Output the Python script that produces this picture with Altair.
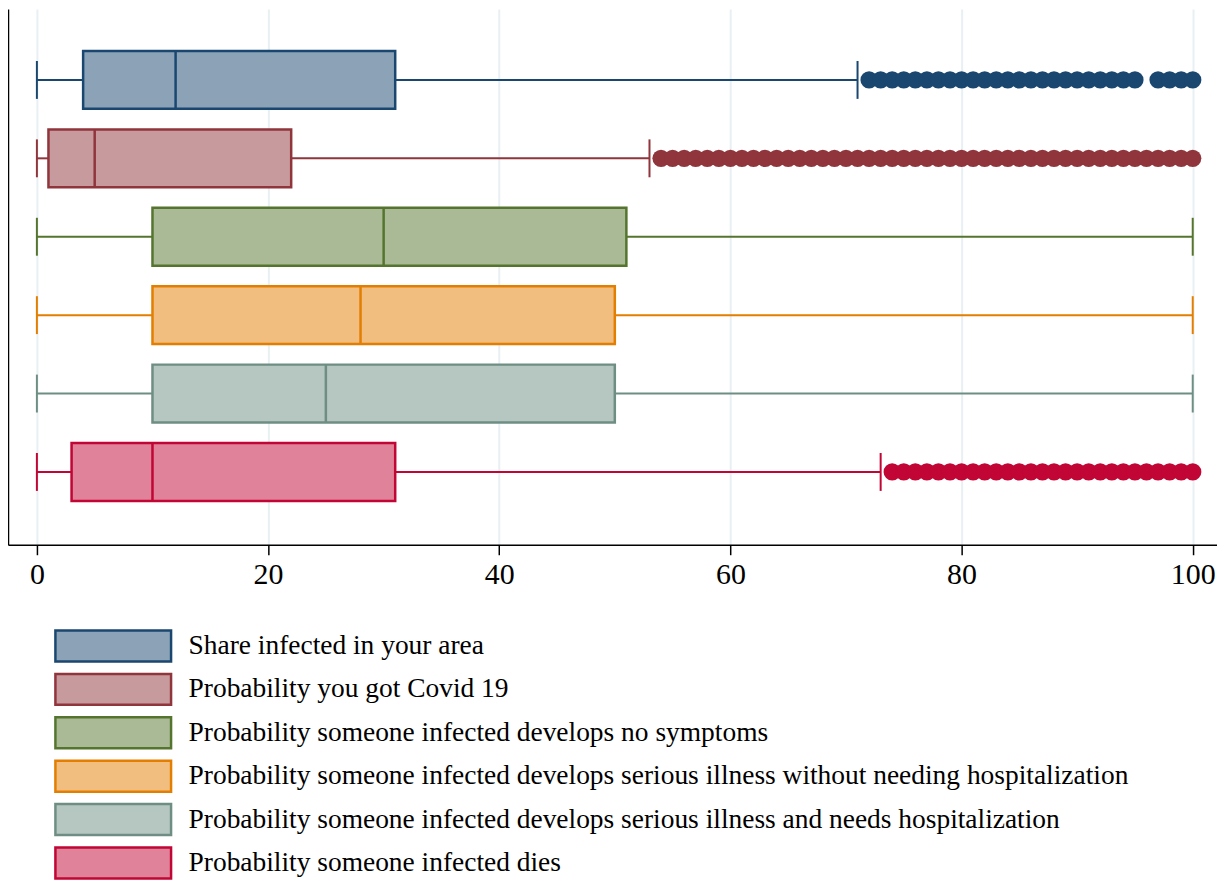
import altair as alt
import pandas as pd

categories = [
    "Share infected in your area",
    "Probability you got Covid 19",
    "Probability someone infected develops no symptoms",
    "Probability someone infected develops serious illness without needing hospitalization",
    "Probability someone infected develops serious illness and needs hospitalization",
    "Probability someone infected dies",
]
lows = [0, 0, 0, 0, 0, 0]
q1s = [4, 1, 10, 10, 10, 3]
medians = [12, 5, 30, 28, 25, 10]
q3s = [31, 22, 51, 50, 50, 31]
highs = [71, 53, 100, 100, 100, 73]

outliers_0 = [72, 73, 74, 75, 76, 77, 78, 79, 80, 81, 82, 83, 84, 85, 86, 87, 88, 89,
              90, 91, 92, 93, 94, 95, 97, 98, 99, 100]
outliers_1 = [54, 55, 56, 57, 58, 59, 60, 61, 62, 63, 64, 65, 66, 67, 68, 69, 70, 71,
              72, 73, 74, 75, 76, 77, 78, 79, 80, 81, 82, 83, 84, 85, 86, 87, 88, 89,
              90, 91, 92, 93, 94, 95, 96, 97, 98, 99, 100]
outliers_5 = [74, 75, 76, 77, 78, 79, 80, 81, 82, 83, 84, 85, 86, 87, 88, 89, 90, 91,
              92, 93, 94, 95, 96, 97, 98, 99, 100]

dark = ["#1a476f", "#90353b", "#55752f", "#e37e00", "#6e8e84", "#c10534"]
light = ["#8ca3b7", "#c79a9d", "#aaba97", "#f1be7f", "#b6c6c1", "#e08299"]

FONT = "Liberation Serif"

box_df = pd.DataFrame({
    "cat": categories, "low": lows, "q1": q1s, "med": medians, "q3": q3s, "high": highs,
})
out_rows = []
for c, vals in [(categories[0], outliers_0), (categories[1], outliers_1), (categories[5], outliers_5)]:
    for v in vals:
        out_rows.append({"cat": c, "v": v})
out_df = pd.DataFrame(out_rows)

xscale = alt.Scale(domain=[-2.5, 102.1], nice=False, zero=False)
yenc = alt.Y("cat:N", sort=categories,
             scale=alt.Scale(paddingInner=0, paddingOuter=0.416, align=0.485),
             axis=alt.Axis(title=None, labels=False, ticks=False, grid=False,
                           domainColor="black", domainWidth=1.5))
# data-driven domain (sorted) so this hidden legend is not merged with the visible one
col_dark = alt.Color("cat:N", sort=categories,
                     scale=alt.Scale(range=dark), legend=None)

base = alt.Chart(box_df)

whisk_lo = base.mark_rule(strokeWidth=2).encode(
    x=alt.X("low:Q", scale=xscale,
            axis=alt.Axis(values=[0, 20, 40, 60, 80, 100], title=None, grid=True,
                          gridColor="#e8f0f3", gridWidth=2, domainColor="black",
                          domainWidth=1.5, tickColor="black", tickWidth=1.5, tickSize=10,
                          labelFont=FONT, labelFontSize=30, labelColor="black",
                          labelPadding=5)),
    x2="q1:Q", y=yenc, color=col_dark)
whisk_hi = base.mark_rule(strokeWidth=2).encode(
    x=alt.X("q3:Q", scale=xscale), x2="high:Q", y=yenc, color=col_dark)
caps_lo = base.mark_tick(size=38, thickness=2, opacity=1).encode(
    x=alt.X("low:Q", scale=xscale), y=yenc, color=col_dark)
caps_hi = base.mark_tick(size=38, thickness=2, opacity=1).encode(
    x=alt.X("high:Q", scale=xscale), y=yenc, color=col_dark)

# symbol box 116 x 31: path spans +-3.74 x +-1 in units of sqrt(symbolSize)=31
legend = alt.Legend(
    title=None, orient="none", legendX=88.5, legendY=621.5, direction="vertical",
    symbolType="M-3.74,-1H3.74V1H-3.74Z", symbolSize=31 * 31, symbolStrokeWidth=2.5,
    symbolOpacity=1,
    labelFont=FONT, labelFontSize=27.5, labelColor="black", labelOffset=58.5,
    rowPadding=1.5, labelLimit=1200,
)
boxes = base.mark_bar(size=58, strokeWidth=2.5, opacity=1).encode(
    x=alt.X("q1:Q", scale=xscale), x2="q3:Q", y=yenc,
    fill=alt.Fill("cat:N", sort=categories,
                  scale=alt.Scale(domain=categories, range=light), legend=legend),
    stroke=alt.Stroke("cat:N", sort=categories,
                      scale=alt.Scale(domain=categories, range=dark), legend=legend),
)
medians_l = base.mark_tick(size=58, thickness=2.5, opacity=1).encode(
    x=alt.X("med:Q", scale=xscale), y=yenc, color=col_dark)

outs = alt.Chart(out_df).mark_circle(size=300, opacity=1).encode(
    x=alt.X("v:Q", scale=xscale), y=yenc, color=col_dark)

chart = alt.layer(whisk_lo, whisk_hi, caps_lo, caps_hi, boxes, medians_l, outs).properties(
    width=1212, height=537, padding={"left": 0, "top": 0, "right": 0, "bottom": 0},
).configure_view(stroke=None).configure_axis(labelFont=FONT)

chart.save("out.html", embed_options={"renderer": "svg", "actions": False})
